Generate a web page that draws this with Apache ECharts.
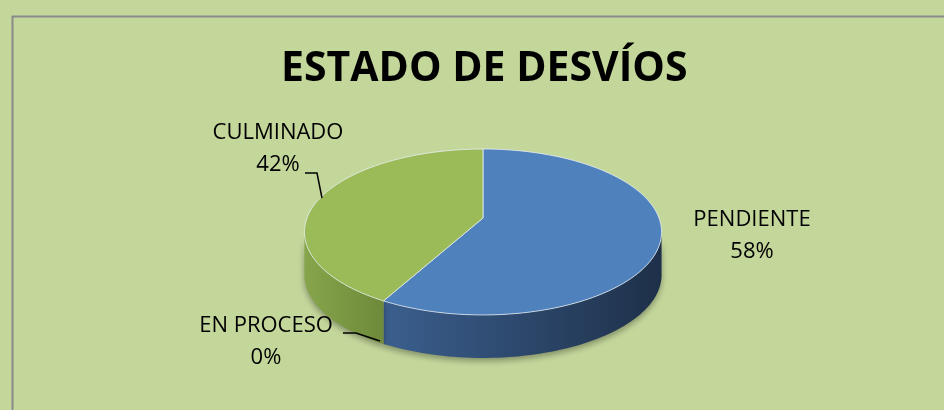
<!DOCTYPE html>
<html>
<head>
<meta charset="utf-8">
<script src="https://cdn.jsdelivr.net/npm/echarts@6/dist/echarts.min.js"></script>
<style>
html,body{margin:0;padding:0;background:#c4d79b;}
#chart{width:944px;height:410px;}
</style>
</head>
<body>
<div id="chart"></div>
<script>
// ---- data ----
const categories = ['PENDIENTE', 'EN PROCESO', 'CULMINADO'];
const values = [58, 0, 42];
const titleText = 'ESTADO DE DESVÍOS';

// ---- style / layout (not data) ----
const topColors = ['#4f81bd', '#c0504d', '#9bbb59'];
const wallColors = [['#3b5f8e', '#1e3049'], ['#943634', '#632523'], ['#86a54b', '#6e8a3a']];
const geo = { cx: 483, cy: 218, A: 176, B: 80.6, p: 0.1687, H: 43 };
const labelLayout = {
  'PENDIENTE': { x: 752, y: 236, line: null },
  'CULMINADO': { x: 278, y: 149, line: [[305, 173], [317, 173], [322, 198]] },
  'EN PROCESO': { x: 266, y: 342, line: [[343, 333], [356, 333], [380, 341]] }
};
const FONT = '"Open Sans", "Liberation Sans", sans-serif';

const total = values.reduce((a, b) => a + b, 0);
const starts = [];
{ let acc = 0; values.forEach(v => { starts.push(acc); acc += v; }); }

function proj(theta, h) {
  const r = theta * Math.PI / 180;
  const u = Math.sin(r), v = Math.cos(r);
  const s = 1 / (1 + geo.p * v);
  return [geo.cx + geo.A * u * s, geo.cy - geo.B * v * s + h * geo.H];
}
function arc(a0, a1, h) {
  const pts = [];
  const n = Math.max(2, Math.ceil(Math.abs(a1 - a0) / 1.5));
  for (let i = 0; i <= n; i++) pts.push(proj(a0 + (a1 - a0) * i / n, h));
  return pts;
}
const thetaR = Math.acos(-geo.p) * 180 / Math.PI;
const thetaL = 360 - thetaR;

function renderItem(params, api) {
  const i = params.dataIndex;
  const val = api.value(0);
  const children = [];
  const name = categories[i];
  if (val > 0) {
    const a0 = starts[i] / total * 360;
    const a1 = (starts[i] + val) / total * 360;
    const w0 = Math.max(a0, thetaR), w1 = Math.min(a1, thetaL);
    if (w1 > w0) {
      const topPts = arc(w0, w1, 0);
      const botPts = arc(w1, w0, 1);
      const xs = topPts.map(p => p[0]);
      children.push({
        type: 'polygon', z2: 1,
        shape: { points: topPts.concat(botPts) },
        style: {
          fill: new echarts.graphic.LinearGradient(Math.min(...xs), 0, Math.max(...xs), 0,
            [{ offset: 0, color: wallColors[i][0] }, { offset: 1, color: wallColors[i][1] }], true),
          stroke: 'rgba(0,0,0,0)',
          shadowBlur: 6, shadowColor: 'rgba(0,0,0,0.35)', shadowOffsetY: 3
        }
      });
    }
    const pts = [[geo.cx, geo.cy]].concat(arc(a0, a1, 0));
    children.push({
      type: 'polygon', z2: 10,
      shape: { points: pts },
      style: { fill: topColors[i], stroke: 'rgba(235,240,250,0.75)', lineWidth: 1 }
    });
  }
  const lay = labelLayout[name];
  const pct = Math.round(val / total * 100) + '%';
  children.push({
    type: 'text', z2: 20, x: lay.x, y: lay.y,
    style: {
      text: name + '\n' + pct, fill: '#000', font: '22px ' + FONT,
      align: 'center', verticalAlign: 'middle', lineHeight: 32
    }
  });
  if (lay.line) {
    children.push({
      type: 'polyline', z2: 20,
      shape: { points: lay.line },
      style: { stroke: '#000', lineWidth: 1.5, fill: null }
    });
  }
  return { type: 'group', children };
}

const chart = echarts.init(document.getElementById('chart'), null, { renderer: 'canvas' });
chart.setOption({
  backgroundColor: '#c4d79b',
  animation: false,
  title: {
    text: titleText, left: 276, top: 44,
    textStyle: { fontFamily: FONT, fontWeight: 'bold', fontSize: 41, color: '#000' }
  },
  graphic: [{
    type: 'rect', left: 10, top: 14, z: -1,
    shape: { width: 960, height: 420 },
    style: { fill: null, stroke: '#8a8a8a', lineWidth: 2 }
  }],
  series: [{
    type: 'custom',
    coordinateSystem: 'none',
    renderItem: renderItem,
    data: values.map((v, i) => ({ name: categories[i], value: [v] }))
  }]
});
</script>
</body>
</html>
